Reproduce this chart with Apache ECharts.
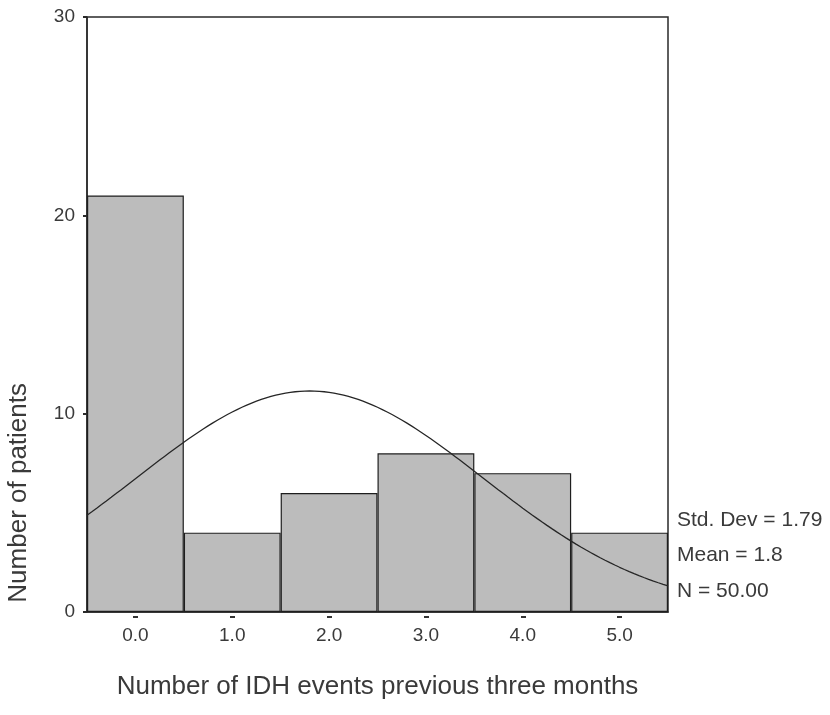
<!DOCTYPE html>
<html>
<head>
<meta charset="utf-8">
<script src="https://cdn.jsdelivr.net/npm/echarts@6/dist/echarts.min.js"></script>
<style>
  html, body { margin: 0; padding: 0; background: #fff; }
  #chart { width: 830px; height: 715px; }
</style>
</head>
<body>
<div id="chart"></div>
<script>
// Histogram of IDH events with fitted normal curve
const categories = ['0.0', '1.0', '2.0', '3.0', '4.0', '5.0'];
const patients = [21, 4, 6, 8, 7, 4];
const yTicks = [0, 10, 20, 30];
const stdDev = 1.79;
const mean = 1.8;
const nTotal = 50;
const binWidth = 1;

// Normal curve scaled to counts, from the summary statistics shown
const curve = [];
for (let i = 0; i <= 120; i++) {
  const x = -0.5 + i * 0.05;
  const z = (x - mean) / stdDev;
  const y = nTotal * binWidth / (stdDev * Math.sqrt(2 * Math.PI)) * Math.exp(-0.5 * z * z);
  curve.push([x, y]);
}

const font = 'Liberation Sans, Arial, sans-serif';
const textColor = '#3a3a3a';

const chart = echarts.init(document.getElementById('chart'));
chart.setOption({
  animation: false,
  backgroundColor: '#fff',
  grid: {
    left: 87, right: 162, top: 17, bottom: 103,
    show: true, borderColor: '#2a2a2a', borderWidth: 1.5, backgroundColor: 'transparent'
  },
  xAxis: [
    {
      type: 'category',
      data: categories,
      boundaryGap: true,
      axisLine: { show: true, lineStyle: { color: '#2a2a2a', width: 1.5 } },
      axisTick: { show: false },
      axisLabel: { fontFamily: font, fontSize: 19, color: textColor, margin: 14 },
      name: 'Number of IDH events previous three months',
      nameLocation: 'middle',
      nameGap: 62,
      nameTextStyle: { fontFamily: font, fontSize: 26, color: textColor }
    },
    {
      // small tick dashes just below the baseline
      type: 'category',
      data: categories,
      position: 'bottom',
      offset: 4,
      axisLine: { show: false },
      axisTick: { show: true, alignWithLabel: true, length: 2, lineStyle: { color: '#333', width: 5 } },
      axisLabel: { show: false }
    },
    {
      type: 'value',
      min: -0.5, max: 5.5,
      show: false
    }
  ],
  yAxis: {
    type: 'value',
    min: 0, max: 30, interval: 10,
    axisLine: { show: true, onZero: false, lineStyle: { color: '#2a2a2a', width: 1.5 } },
    axisTick: { show: true, length: 4, lineStyle: { color: '#2a2a2a', width: 2 } },
    splitLine: { show: false },
    axisLabel: {
      fontFamily: font, fontSize: 19, color: textColor, margin: 12,
      formatter: v => yTicks.includes(v) ? String(v) : ''
    }
  },
  series: [
    {
      type: 'bar',
      xAxisIndex: 0,
      data: patients,
      barCategoryGap: '0%',
      itemStyle: { color: '#bcbcbc', borderColor: '#1e1e1e', borderWidth: 1.2 }
    },
    {
      type: 'line',
      xAxisIndex: 2,
      data: curve,
      showSymbol: false,
      smooth: false,
      lineStyle: { color: '#262626', width: 1.3 },
      z: 5
    }
  ],
  graphic: [
    {
      type: 'text', left: 6, top: 383,
      rotation: Math.PI / 2,
      style: { text: 'Number of patients', font: '26px ' + font, fill: textColor }
    },
    { type: 'text', left: 677, top: 510, style: { text: 'Std. Dev = ' + stdDev.toFixed(2), font: '21px ' + font, fill: textColor } },
    { type: 'text', left: 677, top: 545, style: { text: 'Mean = ' + mean.toFixed(1), font: '21px ' + font, fill: textColor } },
    { type: 'text', left: 677, top: 581, style: { text: 'N = ' + nTotal.toFixed(2), font: '21px ' + font, fill: textColor } }
  ]
});
</script>
</body>
</html>
